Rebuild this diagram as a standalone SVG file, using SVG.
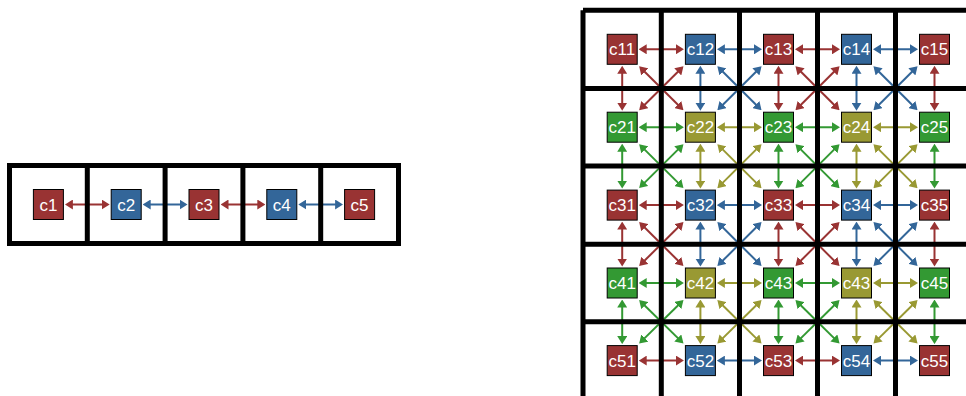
<svg xmlns="http://www.w3.org/2000/svg" width="966" height="396" viewBox="0 0 966 396">
  <style>
    .frame { fill: none; stroke: #000; stroke-width: 5; }
    .node rect { stroke: #000; stroke-width: 1; }
    .node text { font-family: "Liberation Sans", Arial, sans-serif; font-size: 17px; fill: #fff; text-anchor: middle; }
    .R rect { fill: #993333; } .B rect { fill: #336699; } .G rect { fill: #339933; } .O rect { fill: #999933; }
    #links line { stroke-width: 2; fill: none; }
    #links .r { stroke: #993333; marker-start: url(#ar); marker-end: url(#ar); }
    #links .b { stroke: #336699; marker-start: url(#ab); marker-end: url(#ab); }
    #links .g { stroke: #339933; marker-start: url(#ag); marker-end: url(#ag); }
    #links .o { stroke: #999933; marker-start: url(#ao); marker-end: url(#ao); }
  </style>
  <defs>
    <marker id="ar" markerUnits="userSpaceOnUse" markerWidth="8" markerHeight="10" refX="2" refY="5" orient="auto-start-reverse"><path d="M0,0 L8,5 L0,10 z" fill="#993333"/></marker>
    <marker id="ab" markerUnits="userSpaceOnUse" markerWidth="8" markerHeight="10" refX="2" refY="5" orient="auto-start-reverse"><path d="M0,0 L8,5 L0,10 z" fill="#336699"/></marker>
    <marker id="ag" markerUnits="userSpaceOnUse" markerWidth="8" markerHeight="10" refX="2" refY="5" orient="auto-start-reverse"><path d="M0,0 L8,5 L0,10 z" fill="#339933"/></marker>
    <marker id="ao" markerUnits="userSpaceOnUse" markerWidth="8" markerHeight="10" refX="2" refY="5" orient="auto-start-reverse"><path d="M0,0 L8,5 L0,10 z" fill="#999933"/></marker>
  </defs>
  <rect width="966" height="396" fill="#fff"/>

  <!-- connectors (drawn beneath the cell frames) -->
  <g id="links">
    <!-- 1D row -->
    <line class="r" x1="70.9" y1="204.5" x2="103.7" y2="204.5"/>
    <line class="b" x1="148.7" y1="204.5" x2="181.5" y2="204.5"/>
    <line class="r" x1="226.5" y1="204.5" x2="259.3" y2="204.5"/>
    <line class="b" x1="304.3" y1="204.5" x2="337.1" y2="204.5"/>

    <!-- grid: horizontal -->
    <line class="r" x1="644.7" y1="49.3" x2="677.9" y2="49.3"/>
    <line class="b" x1="722.9" y1="49.3" x2="756" y2="49.3"/>
    <line class="r" x1="801" y1="49.3" x2="834" y2="49.3"/>
    <line class="b" x1="879" y1="49.3" x2="912" y2="49.3"/>
    <line class="g" x1="644.7" y1="127.2" x2="677.9" y2="127.2"/>
    <line class="o" x1="722.9" y1="127.2" x2="756" y2="127.2"/>
    <line class="g" x1="801" y1="127.2" x2="834" y2="127.2"/>
    <line class="o" x1="879" y1="127.2" x2="912" y2="127.2"/>
    <line class="r" x1="644.7" y1="205.1" x2="677.9" y2="205.1"/>
    <line class="b" x1="722.9" y1="205.1" x2="756" y2="205.1"/>
    <line class="r" x1="801" y1="205.1" x2="834" y2="205.1"/>
    <line class="b" x1="879" y1="205.1" x2="912" y2="205.1"/>
    <line class="g" x1="644.7" y1="283" x2="677.9" y2="283"/>
    <line class="o" x1="722.9" y1="283" x2="756" y2="283"/>
    <line class="g" x1="801" y1="283" x2="834" y2="283"/>
    <line class="o" x1="879" y1="283" x2="912" y2="283"/>
    <line class="r" x1="644.7" y1="360.6" x2="677.9" y2="360.6"/>
    <line class="b" x1="722.9" y1="360.6" x2="756" y2="360.6"/>
    <line class="r" x1="801" y1="360.6" x2="834" y2="360.6"/>
    <line class="b" x1="879" y1="360.6" x2="912" y2="360.6"/>

    <!-- grid: vertical -->
    <line class="r" x1="622.2" y1="71.8" x2="622.2" y2="104.7"/>
    <line class="b" x1="700.4" y1="71.8" x2="700.4" y2="104.7"/>
    <line class="r" x1="778.5" y1="71.8" x2="778.5" y2="104.7"/>
    <line class="b" x1="856.5" y1="71.8" x2="856.5" y2="104.7"/>
    <line class="r" x1="934.5" y1="71.8" x2="934.5" y2="104.7"/>
    <line class="g" x1="622.2" y1="149.7" x2="622.2" y2="182.6"/>
    <line class="o" x1="700.4" y1="149.7" x2="700.4" y2="182.6"/>
    <line class="g" x1="778.5" y1="149.7" x2="778.5" y2="182.6"/>
    <line class="o" x1="856.5" y1="149.7" x2="856.5" y2="182.6"/>
    <line class="g" x1="934.5" y1="149.7" x2="934.5" y2="182.6"/>
    <line class="r" x1="622.2" y1="227.6" x2="622.2" y2="260.5"/>
    <line class="b" x1="700.4" y1="227.6" x2="700.4" y2="260.5"/>
    <line class="r" x1="778.5" y1="227.6" x2="778.5" y2="260.5"/>
    <line class="b" x1="856.5" y1="227.6" x2="856.5" y2="260.5"/>
    <line class="r" x1="934.5" y1="227.6" x2="934.5" y2="260.5"/>
    <line class="g" x1="622.2" y1="305.5" x2="622.2" y2="338.1"/>
    <line class="o" x1="700.4" y1="305.5" x2="700.4" y2="338.1"/>
    <line class="g" x1="778.5" y1="305.5" x2="778.5" y2="338.1"/>
    <line class="o" x1="856.5" y1="305.5" x2="856.5" y2="338.1"/>
    <line class="g" x1="934.5" y1="305.5" x2="934.5" y2="338.1"/>

    <!-- grid: diagonals, rows 1-2 -->
    <line class="r" x1="643.4" y1="70.5" x2="679.2" y2="106"/>
    <line class="r" x1="679.2" y1="70.5" x2="643.4" y2="106"/>
    <line class="b" x1="721.6" y1="70.5" x2="757.3" y2="106"/>
    <line class="b" x1="757.3" y1="70.5" x2="721.6" y2="106"/>
    <line class="r" x1="799.7" y1="70.5" x2="835.3" y2="106"/>
    <line class="r" x1="835.3" y1="70.5" x2="799.7" y2="106"/>
    <line class="b" x1="877.7" y1="70.5" x2="913.3" y2="106"/>
    <line class="b" x1="913.3" y1="70.5" x2="877.7" y2="106"/>
    <!-- rows 2-3 -->
    <line class="g" x1="643.4" y1="148.4" x2="679.2" y2="183.9"/>
    <line class="g" x1="679.2" y1="148.4" x2="643.4" y2="183.9"/>
    <line class="o" x1="721.6" y1="148.4" x2="757.3" y2="183.9"/>
    <line class="o" x1="757.3" y1="148.4" x2="721.6" y2="183.9"/>
    <line class="g" x1="799.7" y1="148.4" x2="835.3" y2="183.9"/>
    <line class="g" x1="835.3" y1="148.4" x2="799.7" y2="183.9"/>
    <line class="o" x1="877.7" y1="148.4" x2="913.3" y2="183.9"/>
    <line class="o" x1="913.3" y1="148.4" x2="877.7" y2="183.9"/>
    <!-- rows 3-4 -->
    <line class="r" x1="643.4" y1="226.3" x2="679.2" y2="261.8"/>
    <line class="r" x1="679.2" y1="226.3" x2="643.4" y2="261.8"/>
    <line class="b" x1="721.6" y1="226.3" x2="757.3" y2="261.8"/>
    <line class="b" x1="757.3" y1="226.3" x2="721.6" y2="261.8"/>
    <line class="r" x1="799.7" y1="226.3" x2="835.3" y2="261.8"/>
    <line class="r" x1="835.3" y1="226.3" x2="799.7" y2="261.8"/>
    <line class="b" x1="877.7" y1="226.3" x2="913.3" y2="261.8"/>
    <line class="b" x1="913.3" y1="226.3" x2="877.7" y2="261.8"/>
    <!-- rows 4-5 -->
    <line class="g" x1="643.4" y1="304.2" x2="679.2" y2="339.4"/>
    <line class="g" x1="679.2" y1="304.2" x2="643.4" y2="339.4"/>
    <line class="o" x1="721.6" y1="304.2" x2="757.3" y2="339.4"/>
    <line class="o" x1="757.3" y1="304.2" x2="721.6" y2="339.4"/>
    <line class="g" x1="799.7" y1="304.2" x2="835.3" y2="339.4"/>
    <line class="g" x1="835.3" y1="304.2" x2="799.7" y2="339.4"/>
    <line class="o" x1="877.7" y1="304.2" x2="913.3" y2="339.4"/>
    <line class="o" x1="913.3" y1="304.2" x2="877.7" y2="339.4"/>
  </g>

  <!-- cell frames: 1D row and 2D grid -->
  <g id="cells">
    <rect class="frame" x="9.5" y="165.5" width="389" height="78"/>
    <path class="frame" d="M87.3,165.5V243.5 M165.1,165.5V243.5 M242.9,165.5V243.5 M320.7,165.5V243.5"/>
    <path class="frame" d="M583,10.2V400 M661.3,10.2V400 M739.5,10.2V400 M817.5,10.2V400 M895.5,10.2V400 M973.5,10.2V400
      M583,10.2H975 M583,88.5H975 M583,166H975 M583,244.3H975 M583,321.7H975 M583,399.5H975"/>
  </g>

  <!-- 1D nodes -->
  <g id="c1" class="node R"><rect x="33.4" y="189.5" width="30" height="30"/><text x="48.4" y="210.5">c1</text></g>
  <g id="c2" class="node B"><rect x="111.2" y="189.5" width="30" height="30"/><text x="126.2" y="210.5">c2</text></g>
  <g id="c3" class="node R"><rect x="189" y="189.5" width="30" height="30"/><text x="204" y="210.5">c3</text></g>
  <g id="c4" class="node B"><rect x="266.8" y="189.5" width="30" height="30"/><text x="281.8" y="210.5">c4</text></g>
  <g id="c5" class="node R"><rect x="344.6" y="189.5" width="30" height="30"/><text x="359.6" y="210.5">c5</text></g>

  <!-- grid nodes, row 1 -->
  <g id="c11" class="node R"><rect x="607.2" y="34.3" width="30" height="30"/><text x="622.2" y="55.3">c11</text></g>
  <g id="c12" class="node B"><rect x="685.4" y="34.3" width="30" height="30"/><text x="700.4" y="55.3">c12</text></g>
  <g id="c13" class="node R"><rect x="763.5" y="34.3" width="30" height="30"/><text x="778.5" y="55.3">c13</text></g>
  <g id="c14" class="node B"><rect x="841.5" y="34.3" width="30" height="30"/><text x="856.5" y="55.3">c14</text></g>
  <g id="c15" class="node R"><rect x="919.5" y="34.3" width="30" height="30"/><text x="934.5" y="55.3">c15</text></g>
  <!-- row 2 -->
  <g id="c21" class="node G"><rect x="607.2" y="112.2" width="30" height="30"/><text x="622.2" y="133.2">c21</text></g>
  <g id="c22" class="node O"><rect x="685.4" y="112.2" width="30" height="30"/><text x="700.4" y="133.2">c22</text></g>
  <g id="c23" class="node G"><rect x="763.5" y="112.2" width="30" height="30"/><text x="778.5" y="133.2">c23</text></g>
  <g id="c24" class="node O"><rect x="841.5" y="112.2" width="30" height="30"/><text x="856.5" y="133.2">c24</text></g>
  <g id="c25" class="node G"><rect x="919.5" y="112.2" width="30" height="30"/><text x="934.5" y="133.2">c25</text></g>
  <!-- row 3 -->
  <g id="c31" class="node R"><rect x="607.2" y="190.1" width="30" height="30"/><text x="622.2" y="211.1">c31</text></g>
  <g id="c32" class="node B"><rect x="685.4" y="190.1" width="30" height="30"/><text x="700.4" y="211.1">c32</text></g>
  <g id="c33" class="node R"><rect x="763.5" y="190.1" width="30" height="30"/><text x="778.5" y="211.1">c33</text></g>
  <g id="c34" class="node B"><rect x="841.5" y="190.1" width="30" height="30"/><text x="856.5" y="211.1">c34</text></g>
  <g id="c35" class="node R"><rect x="919.5" y="190.1" width="30" height="30"/><text x="934.5" y="211.1">c35</text></g>
  <!-- row 4 -->
  <g id="c41" class="node G"><rect x="607.2" y="268" width="30" height="30"/><text x="622.2" y="289">c41</text></g>
  <g id="c42" class="node O"><rect x="685.4" y="268" width="30" height="30"/><text x="700.4" y="289">c42</text></g>
  <g id="c43" class="node G"><rect x="763.5" y="268" width="30" height="30"/><text x="778.5" y="289">c43</text></g>
  <g id="c44" class="node O"><rect x="841.5" y="268" width="30" height="30"/><text x="856.5" y="289">c43</text></g>
  <g id="c45" class="node G"><rect x="919.5" y="268" width="30" height="30"/><text x="934.5" y="289">c45</text></g>
  <!-- row 5 -->
  <g id="c51" class="node R"><rect x="607.2" y="345.6" width="30" height="30"/><text x="622.2" y="366.6">c51</text></g>
  <g id="c52" class="node B"><rect x="685.4" y="345.6" width="30" height="30"/><text x="700.4" y="366.6">c52</text></g>
  <g id="c53" class="node R"><rect x="763.5" y="345.6" width="30" height="30"/><text x="778.5" y="366.6">c53</text></g>
  <g id="c54" class="node B"><rect x="841.5" y="345.6" width="30" height="30"/><text x="856.5" y="366.6">c54</text></g>
  <g id="c55" class="node R"><rect x="919.5" y="345.6" width="30" height="30"/><text x="934.5" y="366.6">c55</text></g>
</svg>
